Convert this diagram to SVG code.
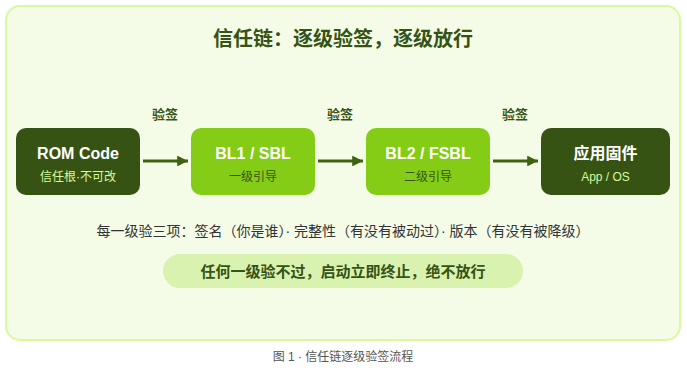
<svg xmlns="http://www.w3.org/2000/svg" width="687" height="378" viewBox="0 0 687 378">
<defs>
<marker id="ah" viewBox="0 0 10 10" refX="10" refY="5" markerWidth="3.6" markerHeight="3.6" orient="auto" markerUnits="strokeWidth">
<path d="M0,0 L10,5 L0,10 z" fill="#3f6212"/>
</marker>
<style>
text{font-family:"Liberation Sans","Noto Sans CJK SC",sans-serif;text-anchor:middle;dominant-baseline:central}
.title{font-size:20px;font-weight:700;fill:#365314}
.lbl{font-size:13px;font-weight:700;fill:#365314}
.nt{font-size:16px;font-weight:700;fill:#ffffff}
.nsd{font-size:12px;fill:#d9f99d}
.nsl{font-size:12px;fill:#365314}
.dark{fill:#365314}
.light{fill:#84cc16}
.conn{stroke:#3f6212;stroke-width:3;fill:none;marker-end:url(#ah)}
.note{font-size:14px;fill:#333333}
.pill{font-size:15px;font-weight:700;fill:#365314}
.cap{font-size:12px;fill:#555555}
</style>
</defs>
<rect x="6" y="6" width="674" height="334" rx="14" fill="#f4fce8" stroke="#d9f99d" stroke-width="2"/>
<text class="title" x="343" y="39">信任链：逐级验签，逐级放行</text>
<g id="connectors">
<line class="conn" x1="143" y1="161" x2="188" y2="161"/>
<line class="conn" x1="318" y1="161" x2="363" y2="161"/>
<line class="conn" x1="493" y1="161" x2="538" y2="161"/>
<text class="lbl" x="165" y="114">验签</text>
<text class="lbl" x="340" y="114">验签</text>
<text class="lbl" x="515" y="114">验签</text>
</g>
<g id="rom">
<rect class="dark" x="16" y="128" width="124" height="67" rx="10"/>
<text class="nt" x="78" y="153">ROM Code</text>
<text class="nsd" x="78" y="177">信任根·不可改</text>
</g>
<g id="bl1">
<rect class="light" x="191" y="128" width="124" height="67" rx="10"/>
<text class="nt" x="253" y="153">BL1 / SBL</text>
<text class="nsl" x="253" y="177">一级引导</text>
</g>
<g id="bl2">
<rect class="light" x="366" y="128" width="124" height="67" rx="10"/>
<text class="nt" x="428" y="153">BL2 / FSBL</text>
<text class="nsl" x="428" y="177">二级引导</text>
</g>
<g id="app">
<rect class="dark" x="541" y="128" width="129" height="67" rx="10"/>
<text class="nt" x="605.5" y="153">应用固件</text>
<text class="nsd" x="605.5" y="177">App / OS</text>
</g>
<text class="note" x="343" y="231">每一级验三项：签名（你是谁）· 完整性（有没有被动过）· 版本（有没有被降级）</text>
<g id="warning">
<rect x="163" y="254" width="360" height="34" rx="17" fill="#d9f2b0"/>
<text class="pill" x="343" y="271">任何一级验不过，启动立即终止，绝不放行</text>
</g>
<text class="cap" x="343" y="357">图 1 · 信任链逐级验签流程</text>
</svg>
